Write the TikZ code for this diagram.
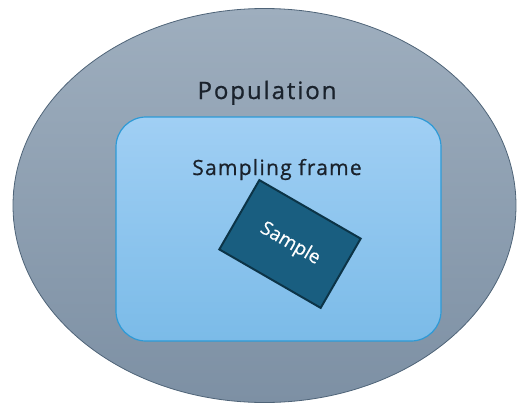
\documentclass[tikz,border=0pt]{standalone}
\usepackage{fontspec}
\setmainfont{Open Sans}
\usetikzlibrary{shapes.geometric}
\definecolor{popTop}{HTML}{9EAEBE}
\definecolor{popBot}{HTML}{7D90A4}
\definecolor{popLine}{HTML}{4F6478}
\definecolor{frTop}{HTML}{A0CFF4}
\definecolor{frBot}{HTML}{7BBBE8}
\definecolor{frLine}{HTML}{2E9AD6}
\definecolor{smFill}{HTML}{195E80}
\definecolor{smLine}{HTML}{0C3447}
\definecolor{txt}{HTML}{1A222C}
\tikzset{
  popshape/.style={ellipse, draw=popLine, line width=0.8pt, top color=popTop, bottom color=popBot, minimum width=503pt, minimum height=394pt, inner sep=0pt},
  framebox/.style={draw=frLine, line width=1.2pt, rounded corners=30pt, top color=frTop, bottom color=frBot, minimum width=325pt, minimum height=224pt, inner sep=0pt},
  samplebox/.style={draw=smLine, line width=2pt, fill=smFill, text=white, minimum width=117pt, minimum height=80pt, inner sep=0pt, rotate=-30},
  lbl/.style={text=txt, inner sep=0pt, anchor=base}
}
\begin{document}
\begin{tikzpicture}[x=1pt,y=-1pt]
\useasboundingbox (0,0) rectangle (518,405);
\node[popshape] (pop) at (264.5,205.5) {};
\node[framebox] (frame) at (278.5,229) {};
\node[samplebox, font=\fontsize{19}{22}\selectfont\addfontfeature{FakeBold=0.5}] (sample) at (290,244) {\raisebox{5pt}{Sample}};
\node[lbl, font=\fontsize{24}{28}\selectfont\addfontfeature{LetterSpace=8,FakeBold=0.8}] (poplbl) at (267,99) {Population};
\node[lbl, font=\fontsize{21}{24}\selectfont\addfontfeature{LetterSpace=6,FakeBold=0.8}] (frlbl) at (277,175) {Sampling frame};
\end{tikzpicture}
\end{document}
